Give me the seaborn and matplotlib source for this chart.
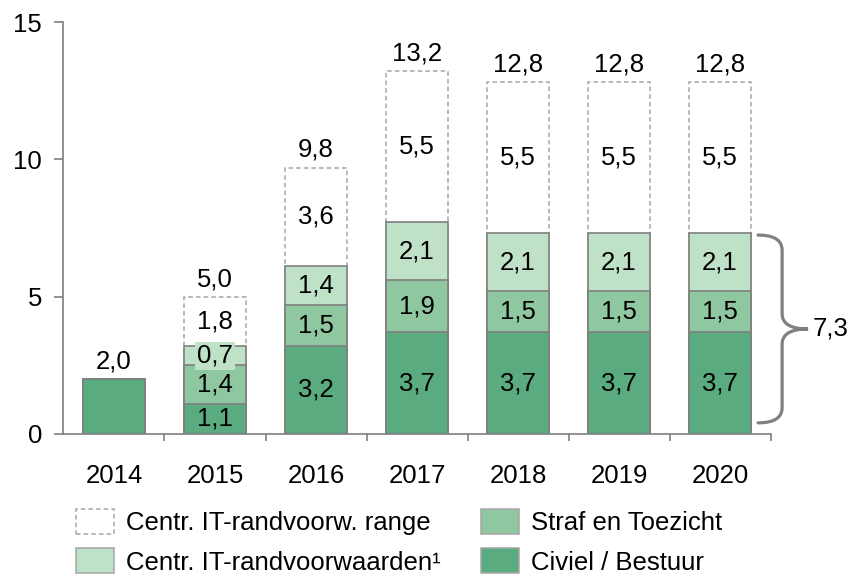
import numpy as np
import seaborn as sns
import matplotlib.pyplot as plt
from matplotlib.path import Path
from matplotlib.patches import PathPatch, Patch

# data
years = ["2014", "2015", "2016", "2017", "2018", "2019", "2020"]
civiel = [2.0, 1.1, 3.2, 3.7, 3.7, 3.7, 3.7]
straf = [0.0, 1.4, 1.5, 1.9, 1.5, 1.5, 1.5]
it_rand = [0.0, 0.7, 1.4, 2.1, 2.1, 2.1, 2.1]
it_range = [0.0, 1.8, 3.6, 5.5, 5.5, 5.5, 5.5]
totals = [2.0, 5.0, 9.8, 13.2, 12.8, 12.8, 12.8]
brace_value = 7.3

c_civiel = "#5aab80"
c_straf = "#8fc8a0"
c_it = "#bfe1c7"
edge = "#7f7f7f"

sns.set_style("ticks")
plt.rcParams["font.family"] = ["Liberation Sans", "DejaVu Sans"]
plt.rcParams["text.color"] = "black"
plt.rcParams["xtick.labelcolor"] = "black"
plt.rcParams["ytick.labelcolor"] = "black"

fig = plt.figure(figsize=(8.53, 5.8), dpi=100)
ax = fig.add_axes([0.0744, 0.252, 0.829, 0.710])

# stacked bars drawn as cumulative heights, top layer first
s1 = np.array(civiel)
s2 = s1 + np.array(straf)
s3 = s2 + np.array(it_rand)
s4 = s3 + np.array(it_range)
w = 0.62
sns.barplot(x=years, y=s4, color="white", edgecolor="#a6a6a6", linewidth=1.1,
            linestyle=(0, (3, 2)), width=w, saturation=1, ax=ax)
for cum, col in [(s3, c_it), (s2, c_straf), (s1, c_civiel)]:
    sns.barplot(x=years, y=cum, color=col, edgecolor=edge, linewidth=1.2,
                width=w, saturation=1, ax=ax)

def fmt(v):
    return f"{v:.1f}".replace(".", ",")

fs = 18.5
for i in range(len(years)):
    bottoms = [0, s1[i], s2[i], s3[i]]
    vals = [civiel[i], straf[i], it_rand[i], it_range[i]]
    if i > 0:
        for b, v, k in zip(bottoms, vals, range(4)):
            if v <= 0:
                continue
            kw = {}
            if years[i] == "2015" and k == 2:
                kw = dict(bbox=dict(facecolor=c_it, edgecolor="none", pad=1.5))
            ax.text(i, b + v / 2, fmt(v), ha="center", va="center", fontsize=fs, **kw)
    ax.annotate(fmt(totals[i]), (i, s4[i]), xytext=(0, 4), textcoords="offset points",
                ha="center", va="bottom", fontsize=fs)

# curly brace to the right of 2020
x0, xv, xt = 6.376, 6.614, 6.871
yt, yb = 7.24, 0.4
ym = (yt + yb) / 2
r = 0.55
verts = [(x0, yt), (xv, yt), (xv, yt - r), (xv, ym + r), (xv, ym), (xt, ym),
         (xv, ym), (xv, ym - r), (xv, yb + r), (xv, yb), (x0, yb)]
codes = [Path.MOVETO, Path.CURVE3, Path.CURVE3, Path.LINETO, Path.CURVE3, Path.CURVE3,
         Path.CURVE3, Path.CURVE3, Path.LINETO, Path.CURVE3, Path.CURVE3]
ax.add_patch(PathPatch(Path(verts, codes), facecolor="none", edgecolor="#808080",
                       linewidth=2.3, clip_on=False, capstyle="round"))
ax.text(6.92, ym, fmt(brace_value), ha="left", va="center", fontsize=fs)

ax.set_xlim(-0.5, 6.5)
ax.set_ylim(0, 15)
ax.set_yticks([0, 5, 10, 15])
ax.set_xlabel("")
ax.set_ylabel("")
ax.set_xticks(range(len(years)))
ax.set_xticklabels(years)
ax.set_xticks(np.arange(0.5, 7, 1), minor=True)
ax.tick_params(axis="x", which="major", length=0, pad=22, labelsize=fs)
ax.tick_params(axis="x", which="minor", length=5, color=edge, width=1.2)
ax.tick_params(axis="y", length=6.5, color=edge, width=1.2, labelsize=fs, pad=9)
for side in ["top", "right"]:
    ax.spines[side].set_visible(False)
for side in ["left", "bottom"]:
    ax.spines[side].set_color(edge)
    ax.spines[side].set_linewidth(1.2)

handles = [
    Patch(facecolor="white", edgecolor="#a6a6a6", linestyle=(0, (3, 2)), linewidth=1.1,
          label="Centr. IT-randvoorw. range"),
    Patch(facecolor=c_it, edgecolor="#a6a6a6", linewidth=1.1, label="Centr. IT-randvoorwaarden¹"),
    Patch(facecolor=c_straf, edgecolor="#a6a6a6", linewidth=1.1, label="Straf en Toezicht"),
    Patch(facecolor=c_civiel, edgecolor="#a6a6a6", linewidth=1.1, label="Civiel / Bestuur"),
]
fig.legend(handles=handles, loc="upper left", bbox_to_anchor=(0.089, 0.123), ncol=2,
           frameon=False, fontsize=fs, handlelength=1.48, handleheight=1.13,
           handletextpad=0.47, columnspacing=1.55, labelspacing=0.52, borderaxespad=0,
           borderpad=0)

fig.savefig("out.png", dpi=100)
